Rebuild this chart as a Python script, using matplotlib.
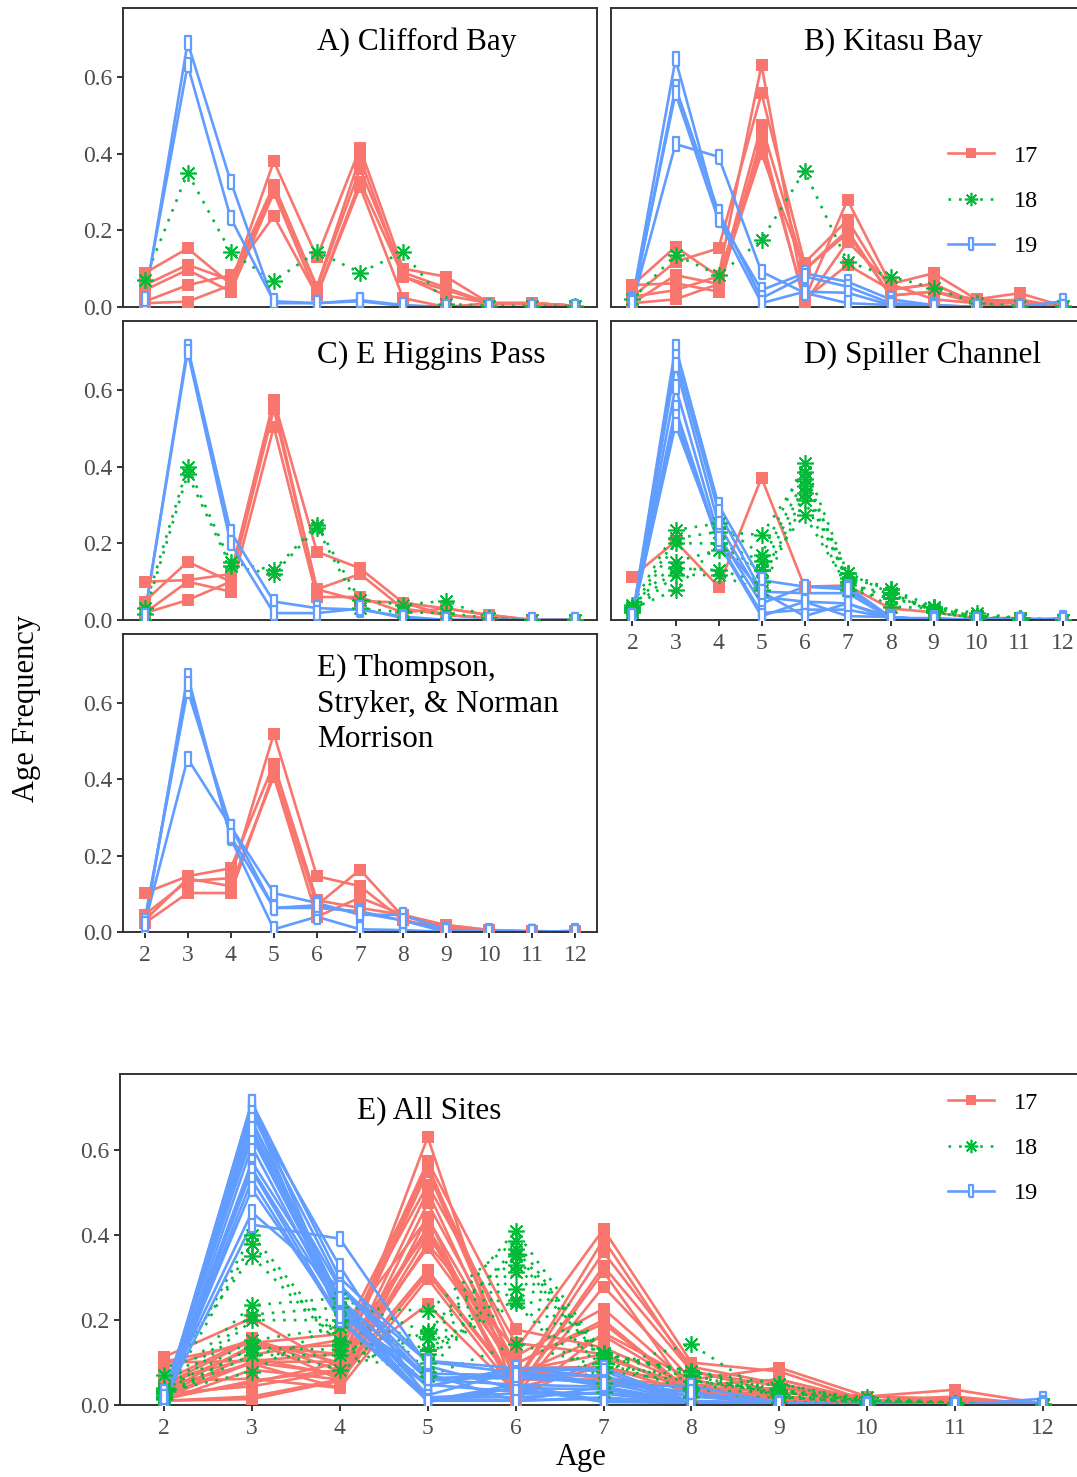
import numpy as np
import matplotlib.pyplot as plt
from matplotlib.lines import Line2D

plt.rcParams['font.family'] = ['Liberation Serif', 'DejaVu Serif']

ages = list(range(2, 13))
years = ['17', '18', '19']

# A) Clifford Bay
clifford_17 = [
    [0.088, 0.153, 0.060, 0.380, 0.130, 0.414, 0.100, 0.079, 0.010, 0.010, 0.003],
    [0.057, 0.110, 0.070, 0.318, 0.053, 0.390, 0.079, 0.044, 0.010, 0.010, 0.003],
    [0.044, 0.097, 0.040, 0.298, 0.031, 0.327, 0.080, 0.030, 0.010, 0.010, 0.003],
    [0.014, 0.057, 0.083, 0.237, 0.031, 0.314, 0.023, 0.000, 0.010, 0.010, 0.003],
    [0.010, 0.014, 0.057, 0.310, 0.050, 0.360, 0.090, 0.050, 0.010, 0.010, 0.003],
]
clifford_18 = [
    [0.070, 0.350, 0.143, 0.068, 0.144, 0.090, 0.143, 0.008, 0.003, 0.003, 0.003],
]
clifford_19 = [
    [0.010, 0.690, 0.327, 0.010, 0.010, 0.015, 0.003, 0.000, 0.000, 0.000, 0.000],
    [0.020, 0.631, 0.232, 0.015, 0.010, 0.018, 0.005, 0.000, 0.000, 0.000, 0.000],
]

# B) Kitasu Bay
kitasu_17 = [
    [0.057, 0.157, 0.080, 0.631, 0.020, 0.279, 0.060, 0.088, 0.020, 0.036, 0.003],
    [0.027, 0.118, 0.153, 0.557, 0.115, 0.227, 0.045, 0.060, 0.010, 0.015, 0.000],
    [0.010, 0.083, 0.060, 0.475, 0.097, 0.192, 0.030, 0.040, 0.020, 0.015, 0.000],
    [0.057, 0.062, 0.040, 0.444, 0.010, 0.170, 0.060, 0.020, 0.010, 0.000, 0.000],
    [0.027, 0.044, 0.080, 0.418, 0.020, 0.110, 0.045, 0.060, 0.010, 0.020, 0.000],
    [0.010, 0.020, 0.060, 0.400, 0.097, 0.200, 0.030, 0.040, 0.010, 0.010, 0.003],
]
kitasu_18 = [
    [0.020, 0.136, 0.083, 0.175, 0.355, 0.118, 0.079, 0.050, 0.010, 0.003, 0.003],
]
kitasu_19 = [
    [0.020, 0.646, 0.235, 0.044, 0.088, 0.066, 0.020, 0.005, 0.000, 0.000, 0.015],
    [0.010, 0.573, 0.249, 0.023, 0.080, 0.053, 0.010, 0.005, 0.000, 0.000, 0.000],
    [0.015, 0.557, 0.227, 0.010, 0.040, 0.037, 0.005, 0.000, 0.000, 0.000, 0.000],
    [0.010, 0.425, 0.392, 0.092, 0.037, 0.010, 0.005, 0.000, 0.000, 0.000, 0.000],
]

# C) E Higgins Pass
higgins_17 = [
    [0.100, 0.104, 0.120, 0.574, 0.178, 0.135, 0.045, 0.030, 0.013, 0.000, 0.000],
    [0.048, 0.152, 0.100, 0.565, 0.080, 0.120, 0.030, 0.013, 0.005, 0.000, 0.000],
    [0.018, 0.100, 0.074, 0.504, 0.060, 0.060, 0.020, 0.030, 0.013, 0.000, 0.000],
    [0.018, 0.052, 0.100, 0.550, 0.080, 0.050, 0.045, 0.013, 0.005, 0.000, 0.000],
]
higgins_18 = [
    [0.030, 0.400, 0.150, 0.130, 0.248, 0.052, 0.040, 0.050, 0.005, 0.000, 0.000],
    [0.015, 0.380, 0.140, 0.120, 0.240, 0.030, 0.020, 0.018, 0.005, 0.000, 0.000],
]
higgins_19 = [
    [0.010, 0.713, 0.230, 0.048, 0.031, 0.027, 0.009, 0.000, 0.000, 0.000, 0.000],
    [0.010, 0.700, 0.200, 0.018, 0.018, 0.030, 0.005, 0.000, 0.000, 0.000, 0.000],
]

# D) Spiller Channel
spiller_17 = [
    [0.113, 0.205, 0.087, 0.371, 0.087, 0.090, 0.030, 0.020, 0.005, 0.005, 0.000],
]
spiller_18 = [
    [0.040, 0.235, 0.252, 0.170, 0.410, 0.122, 0.080, 0.035, 0.018, 0.005, 0.000],
    [0.030, 0.213, 0.230, 0.222, 0.387, 0.100, 0.057, 0.030, 0.010, 0.005, 0.000],
    [0.020, 0.200, 0.200, 0.155, 0.367, 0.122, 0.070, 0.020, 0.005, 0.000, 0.000],
    [0.035, 0.152, 0.183, 0.130, 0.350, 0.100, 0.035, 0.030, 0.010, 0.000, 0.000],
    [0.025, 0.135, 0.130, 0.100, 0.330, 0.110, 0.080, 0.020, 0.005, 0.000, 0.000],
    [0.020, 0.118, 0.117, 0.078, 0.313, 0.078, 0.057, 0.035, 0.010, 0.005, 0.000],
    [0.030, 0.078, 0.200, 0.130, 0.274, 0.090, 0.070, 0.025, 0.005, 0.000, 0.000],
]
spiller_19 = [
    [0.010, 0.713, 0.300, 0.104, 0.087, 0.087, 0.008, 0.000, 0.000, 0.000, 0.000],
    [0.005, 0.687, 0.283, 0.074, 0.070, 0.070, 0.005, 0.003, 0.000, 0.000, 0.005],
    [0.010, 0.665, 0.250, 0.060, 0.048, 0.043, 0.008, 0.000, 0.000, 0.000, 0.000],
    [0.005, 0.609, 0.220, 0.043, 0.087, 0.080, 0.003, 0.000, 0.000, 0.000, 0.000],
    [0.010, 0.552, 0.204, 0.018, 0.027, 0.027, 0.005, 0.005, 0.000, 0.000, 0.000],
    [0.005, 0.530, 0.200, 0.010, 0.048, 0.010, 0.008, 0.000, 0.000, 0.000, 0.000],
    [0.010, 0.509, 0.210, 0.074, 0.010, 0.043, 0.003, 0.000, 0.000, 0.000, 0.000],
]

# E) Thompson, Stryker, & Norman Morrison
thompson_17 = [
    [0.102, 0.146, 0.167, 0.440, 0.083, 0.063, 0.045, 0.018, 0.005, 0.003, 0.000],
    [0.045, 0.133, 0.141, 0.519, 0.146, 0.120, 0.031, 0.010, 0.005, 0.000, 0.003],
    [0.023, 0.102, 0.102, 0.418, 0.070, 0.163, 0.040, 0.018, 0.005, 0.000, 0.000],
    [0.030, 0.140, 0.120, 0.407, 0.040, 0.090, 0.045, 0.010, 0.003, 0.000, 0.000],
]
thompson_18 = []
thompson_19 = [
    [0.010, 0.671, 0.245, 0.007, 0.040, 0.007, 0.005, 0.000, 0.000, 0.000, 0.000],
    [0.030, 0.632, 0.276, 0.063, 0.063, 0.054, 0.030, 0.000, 0.003, 0.000, 0.000],
    [0.020, 0.454, 0.276, 0.102, 0.076, 0.045, 0.045, 0.005, 0.000, 0.000, 0.003],
    [0.020, 0.650, 0.250, 0.063, 0.070, 0.050, 0.030, 0.003, 0.000, 0.000, 0.000],
]

titles = ['A) Clifford Bay', 'B) Kitasu Bay', 'C) E Higgins Pass', 'D) Spiller Channel',
          'E) Thompson,\nStryker, & Norman\nMorrison', 'E) All Sites']

sites = [
    {'17': clifford_17, '18': clifford_18, '19': clifford_19},
    {'17': kitasu_17, '18': kitasu_18, '19': kitasu_19},
    {'17': higgins_17, '18': higgins_18, '19': higgins_19},
    {'17': spiller_17, '18': spiller_18, '19': spiller_19},
    {'17': thompson_17, '18': thompson_18, '19': thompson_19},
]
all_sites = {yr: [row for s in sites for row in s[yr]] for yr in years}

colors = {'17': '#F8766D', '18': '#00BA38', '19': '#619CFF'}
lstyles = {'17': '-', '18': (0, (1, 3)), '19': '-'}
rect = [(-0.2, -0.5), (0.2, -0.5), (0.2, 0.5), (-0.2, 0.5), (-0.2, -0.5)]
mk = {'17': dict(marker='s', markersize=8.5, markerfacecolor=colors['17'], markeredgewidth=0),
      '18': dict(marker=(8, 2, 0), markersize=12, markeredgewidth=1.2),
      '19': dict(marker=rect, markersize=10, markerfacecolor='white', markeredgewidth=1.6)}

W, H = 1077, 1477
fig = plt.figure(figsize=(W / 100, H / 100), dpi=100)


def px_axes(left, top, width, height):
    return fig.add_axes([left / W, 1 - (top + height) / H, width / W, height / H])


def draw(ax, data, title, tx, xlabels, ylabels):
    for yr in years:
        for row in data[yr]:
            ax.plot(ages, row, color=colors[yr], ls=lstyles[yr], lw=1.9, zorder=2)
    for yr in years:
        for row in data[yr]:
            ax.plot(ages, row, ls='none', color=colors[yr], zorder=3, **mk[yr])
    ax.set_xlim(1.5, 12.5)
    ax.set_ylim(0, 0.78)
    ax.set_xticks(ages)
    ax.set_yticks([0.0, 0.2, 0.4, 0.6])
    ax.set_yticklabels(['0.0', '0.2', '0.4', '0.6'])
    for sp in ax.spines.values():
        sp.set_color('#333333')
        sp.set_linewidth(1.4)
    ax.tick_params(axis='both', colors='#333333', width=1.4, length=4.5, pad=3,
                   labelsize=17, labelcolor='#4D4D4D')
    ax.tick_params(axis='x', pad=5)
    if not xlabels:
        ax.tick_params(axis='x', bottom=False, labelbottom=False)
    if not ylabels:
        ax.tick_params(axis='y', left=False, labelleft=False)
    ax.text(tx, 0.728, title, fontsize=22.5, ha='left', va='top', linespacing=1.3)


# panel boxes in pixels: left, top, width, height
axA = px_axes(123, 8, 474, 299)
axB = px_axes(611, 8, 473, 299)
axC = px_axes(123, 321, 474, 299)
axD = px_axes(611, 321, 473, 299)
axE = px_axes(123, 634, 474, 298)
axAll = px_axes(120, 1074, 967, 331)

draw(axA, sites[0], titles[0], 6.0, False, True)
draw(axB, sites[1], titles[1], 6.0, False, False)
draw(axC, sites[2], titles[2], 6.0, False, True)
draw(axD, sites[3], titles[3], 6.0, True, False)
draw(axE, sites[4], titles[4], 6.0, True, True)
draw(axAll, all_sites, titles[5], 4.2, True, True)

handles = []
for yr in years:
    kw = dict(mk[yr])
    kw['markersize'] = kw['markersize'] * 0.8
    handles.append(Line2D([0], [0], color=colors[yr], ls=lstyles[yr], lw=1.9, **kw))

for ycen in (201, 1148):
    fig.legend(handles, years, loc='center left', bbox_to_anchor=(948 / W, 1 - ycen / H),
               frameon=False, fontsize=17.5, handlelength=1.9, handletextpad=0.8,
               labelspacing=0.95, borderpad=0, borderaxespad=0)

fig.text(27 / W, 1 - 708 / H, 'Age Frequency', rotation=90, fontsize=22,
         ha='center', va='center')
fig.text(581 / W, 1 - 1458 / H, 'Age', fontsize=22, ha='center', va='center')

fig.savefig('out.png', dpi=100)
